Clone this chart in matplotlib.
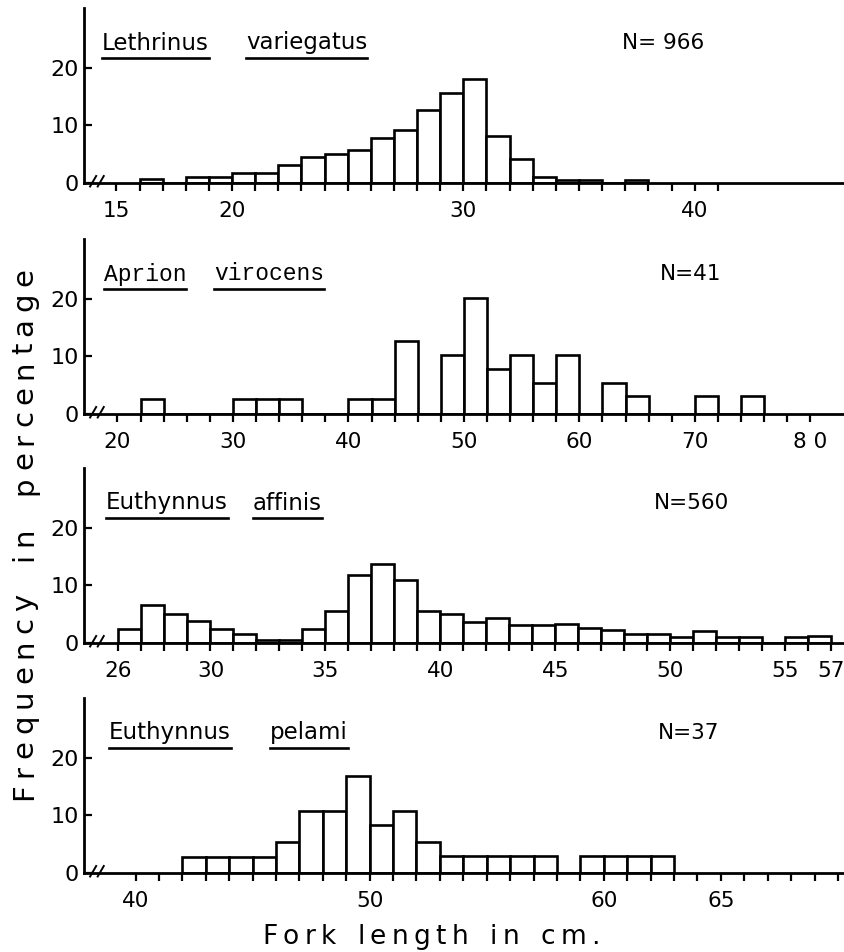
"""
Length-frequency histograms (fork length, cm) for four species,
stacked panels with hand-drawn style axes.
"""
import matplotlib
matplotlib.use("Agg")
import matplotlib.pyplot as plt
from matplotlib.lines import Line2D

W, H = 845, 952

# ---------- data (percent per length class) ----------
lv_left = list(range(16, 38))
lv_pct = [0.75, 0, 1.0, 1.0, 1.8, 1.8, 3.2, 4.6, 5.0, 5.8, 7.9, 9.2,
          12.6, 15.6, 18.1, 8.2, 4.1, 1.0, 0.6, 0.6, 0, 0.6]

av_left = list(range(22, 76, 2))
av_pct = [2.6, 0, 0, 0, 2.6, 2.6, 2.6, 0, 0, 2.6, 2.6, 12.6, 0, 10.2,
          20.2, 7.9, 10.2, 5.4, 10.2, 0, 5.4, 3.2, 0, 0, 3.1, 0, 3.1]

ea_left = list(range(26, 57))
ea_pct = [2.5, 6.6, 5.0, 3.9, 2.4, 1.6, 0.6, 0.6, 2.5, 5.5, 11.8, 13.8,
          10.9, 5.6, 5.0, 3.7, 4.4, 3.2, 3.2, 3.3, 2.6, 2.2, 1.6, 1.6,
          1.1, 2.0, 1.1, 1.1, 0, 1.1, 1.2]

ep_left = list(range(42, 63))
ep_pct = [2.7, 2.7, 2.7, 2.7, 5.4, 10.8, 10.8, 16.8, 8.4, 10.8, 5.4,
          3.0, 3.0, 3.0, 3.0, 3.0, 0, 3.0, 3.0, 3.0, 3.0]

PANELS = [
    dict(left=lv_left, pct=lv_pct, bw=1, xlim=(13.6, 46.5),
         ticks=range(15, 42), labels={15: "15", 20: "20", 30: "30", 40: "40"},
         words=[("Lethrinus", 102), ("variegatus", 246)], n=("N= 966", 622),
         base=183, family="DejaVu Sans"),
    dict(left=av_left, pct=av_pct, bw=2, xlim=(17.1, 83.0),
         ticks=range(20, 82, 2),
         labels={20: "20", 30: "30", 40: "40", 50: "50", 60: "60", 70: "70", 80: "8 0"},
         words=[("Aprion", 104), ("virocens", 214)], n=("N=41", 660),
         base=414, family="Liberation Mono"),
    dict(left=ea_left, pct=ea_pct, bw=1, xlim=(24.5, 57.6),
         ticks=range(26, 58),
         labels={26: "26", 30: "30", 35: "35", 40: "40", 45: "45", 50: "50", 55: "55", 57: "57"},
         words=[("Euthynnus", 106), ("affinis", 253)], n=("N=560", 654),
         base=643, family="DejaVu Sans"),
    dict(left=ep_left, pct=ep_pct, bw=1, xlim=(37.8, 70.3),
         ticks=range(40, 71),
         labels={40: "40", 50: "50", 60: "60", 65: "65"},
         words=[("Euthynnus", 109), ("pelami", 270)], n=("N=37", 658),
         base=873, family="DejaVu Sans"),
]

AX_X0 = 84
AX_H = 175
LW = 1.9

fig = plt.figure(figsize=(W / 100, H / 100), dpi=100)
word_texts = []

for p in PANELS:
    ax = fig.add_axes([AX_X0 / W, 1 - p["base"] / H, 1 - AX_X0 / W, AX_H / H])
    ax.bar(p["left"], p["pct"], width=p["bw"], align="edge",
           facecolor="white", edgecolor="black", linewidth=LW, zorder=2)
    ax.set_xlim(*p["xlim"])
    ax.set_ylim(0, 30.4)

    for side in ("top", "right"):
        ax.spines[side].set_visible(False)
    for side in ("left", "bottom"):
        ax.spines[side].set_linewidth(2.0)

    ticks = list(p["ticks"])
    ax.set_xticks(ticks, labels=[p["labels"].get(t, "") for t in ticks])
    ax.tick_params(axis="x", direction="out", length=6, width=1.6,
                   labelsize=15.5, pad=7)
    ax.set_yticks([0, 10, 20], labels=["0", "10", "20"])
    ax.tick_params(axis="y", direction="in", length=6, width=1.6,
                   labelsize=16, pad=4)

    # axis break marks next to the origin
    for dx in (0.012, 0.022):
        ax.plot([dx - 0.004, dx + 0.004], [-0.02, 0.04], transform=ax.transAxes,
                color="black", lw=1.4, clip_on=False, zorder=3)

    y_txt = 1 - (p["base"] - 140) / H
    for word, xpx in p["words"]:
        t = fig.text(xpx / W, y_txt, word, fontsize=16.5, family=p["family"],
                     va="center", ha="left")
        word_texts.append(t)
    n_txt, n_x = p["n"]
    fig.text(n_x / W, y_txt, n_txt, fontsize=15.5, va="center", ha="left")

fig.canvas.draw()
renderer = fig.canvas.get_renderer()

# underline the species names
for t in word_texts:
    bb = t.get_window_extent(renderer)
    y = (bb.y0 - 3) / H
    fig.add_artist(Line2D([bb.x0 / W, bb.x1 / W], [y, y], color="black", lw=1.9))


def spaced_text(s, start, end, fixed, size, vertical=False, word_gap=14):
    """Lay out s letter by letter so it runs from start to end (pixels)."""
    glyphs = []
    for ch in s:
        if ch == " ":
            glyphs.append((None, word_gap))
            continue
        t = fig.text(0, 0, ch, fontsize=size, rotation=90 if vertical else 0,
                     rotation_mode="anchor", ha="left", va="baseline")
        bb = t.get_window_extent(renderer)
        glyphs.append((t, bb.height if vertical else bb.width))
    total = sum(w for _, w in glyphs)
    n_gaps = sum(1 for t, _ in glyphs if t is not None) - 1
    gap = (abs(end - start) - total) / n_gaps
    pos = start
    for t, w in glyphs:
        if t is None:
            pos += -w if vertical else w
            continue
        if vertical:
            # start/end are measured from the top of the image
            t.set_position((fixed / W, 1 - pos / H))
            pos -= w + gap
        else:
            t.set_position((pos / W, 1 - fixed / H))
            pos += w + gap


spaced_text("Frequency in percentage", 800, 268, 32, 21, vertical=True, word_gap=26)
spaced_text("Fork length in cm.", 262, 600, 944, 19, word_gap=16)

fig.savefig("out.png", dpi=100, facecolor="white")
